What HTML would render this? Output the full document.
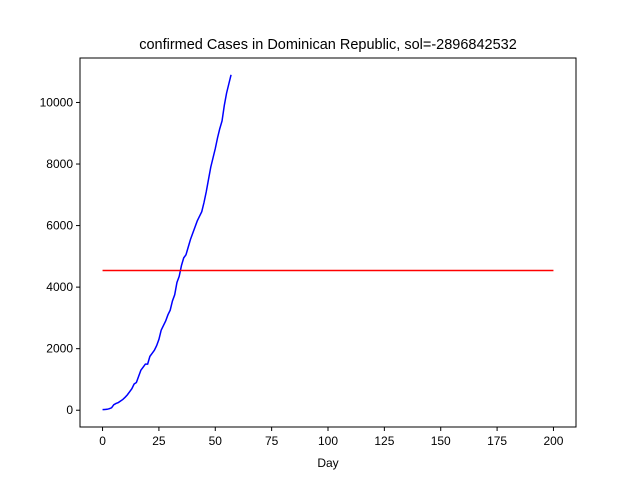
<!DOCTYPE html>
<html><head><meta charset="utf-8"><style>
body{margin:0;background:#fff;}
svg{display:block;font-family:"Liberation Sans","DejaVu Sans",sans-serif;}
</style></head><body>
<svg id="chart" width="640" height="480">
<rect width="640" height="480" fill="#fff"/>
<text x="328" y="49" text-anchor="middle" font-size="14.5">confirmed Cases in Dominican Republic, sol=-2896842532</text>
<g id="plot"></g>
<rect x="80" y="58" width="496" height="369" fill="none" stroke="#000" stroke-width="1"/>
<text x="328" y="467" text-anchor="middle" font-size="12">Day</text>
</svg>
<script>
const days = [];
for (let i = 0; i <= 57; i++) days.push(i);
const cases = [20,25,30,50,80,180,220,250,300,350,420,500,600,700,850,900,1100,1300,1400,1500,1500,1750,1850,1950,2100,2300,2600,2750,2900,3100,3250,3550,3750,4150,4350,4700,4950,5050,5300,5550,5750,5950,6150,6300,6450,6750,7100,7500,7900,8200,8500,8850,9150,9400,9900,10300,10600,10900];
const solX = [0,200];
const solY = [4540,4540];
const xTicks = [0,25,50,75,100,125,150,175,200];
const yTicks = [0,2000,4000,6000,8000,10000];
const L=80,R=576,T=58,B=427;
const xmin=-10,xmax=210,ymin=-545,ymax=11445;
const sx=v=>L+(v-xmin)/(xmax-xmin)*(R-L);
const sy=v=>B-(v-ymin)/(ymax-ymin)*(B-T);
const NS="http://www.w3.org/2000/svg";
const g=document.getElementById('plot');
function mk(t,a){const e=document.createElementNS(NS,t);for(const k in a)e.setAttribute(k,a[k]);g.appendChild(e);return e;}
xTicks.forEach(v=>{
  const l=mk('line',{x1:sx(v),x2:sx(v),y1:B,y2:B+4,stroke:'#000'});
  
  
  const t=mk('text',{x:sx(v),y:B+18,'text-anchor':'middle','font-size':12});
  t.textContent=v;
  
  
});
yTicks.forEach(v=>{
  const l=mk('line',{x1:L-4,x2:L,y1:sy(v),y2:sy(v),stroke:'#000'});
  
  
  const t=mk('text',{x:L-7,y:sy(v)+4,'text-anchor':'end','font-size':12});
  t.textContent=v;
  
  
});
const p1=mk('polyline',{points:days.map((d,i)=>sx(d)+','+sy(cases[i])).join(' '),fill:'none',stroke:'#0000ff','stroke-width':1.5});


const p2=mk('polyline',{points:solX.map((d,i)=>sx(d)+','+sy(solY[i])).join(' '),fill:'none',stroke:'#ff0000','stroke-width':1.5});


</script>
</body></html>
